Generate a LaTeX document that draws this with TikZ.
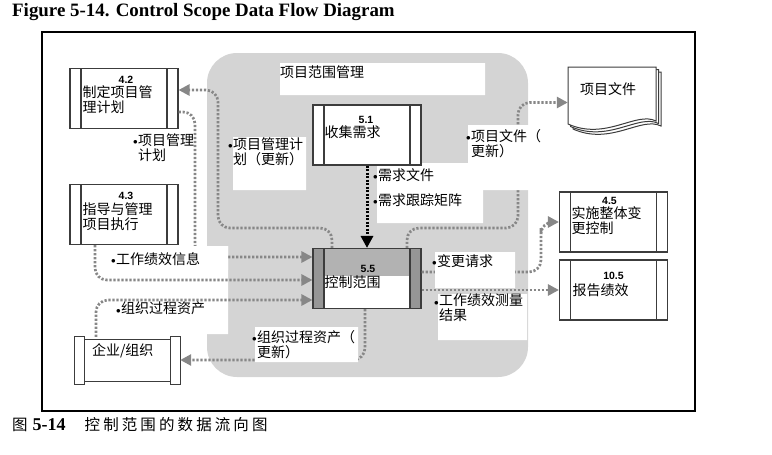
\documentclass[tikz,border=0pt]{standalone}
\usepackage{fontspec}
\setmainfont{Liberation Serif}
\newfontfamily\cjk{Noto Sans CJK SC}
\newfontfamily\cjkcap{Noto Sans CJK SC}[LetterSpace=20]
\newfontfamily\numf{Liberation Sans}
\usetikzlibrary{arrows.meta,positioning}
\definecolor{scopegray}{RGB}{212,212,212}
\definecolor{flowgray}{RGB}{135,135,135}
\definecolor{boxline}{RGB}{60,60,60}
\definecolor{sidegray}{RGB}{150,150,150}
\definecolor{bandgray}{RGB}{178,178,178}
\newcommand\lbul{\llap{\raisebox{0.5pt}{\fontsize{9}{9}\selectfont$\bullet$}\hspace{0.5pt}}}

\begin{document}
\begin{tikzpicture}[x=1pt,y=-1pt]
    \tikzstyle{procbox}=[draw=boxline, line width=1.1pt, fill=white, minimum width=108pt, minimum height=60pt, inner sep=0pt,
      path picture={\draw[boxline, line width=1.1pt]
        ([xshift=11pt]path picture bounding box.north west) -- ([xshift=11pt]path picture bounding box.south west)
        ([xshift=-11pt]path picture bounding box.north east) -- ([xshift=-11pt]path picture bounding box.south east);}]
    \tikzstyle{ctrlbox}=[procbox,
      path picture={
        \fill[sidegray] (path picture bounding box.north west) rectangle ([xshift=11pt]path picture bounding box.south west);
        \fill[sidegray] ([xshift=-11pt]path picture bounding box.north east) rectangle (path picture bounding box.south east);
        \fill[bandgray] ([xshift=11pt]path picture bounding box.north west) rectangle ([xshift=-11pt,yshift=-27pt]path picture bounding box.north east);
        \draw[boxline, line width=1.1pt]
        ([xshift=11pt]path picture bounding box.north west) -- ([xshift=11pt]path picture bounding box.south west)
        ([xshift=-11pt]path picture bounding box.north east) -- ([xshift=-11pt]path picture bounding box.south east);}]
    \tikzstyle{orgbox}=[minimum width=105pt, minimum height=47pt, inner sep=0pt]
    \tikzstyle{pagebox}=[minimum width=88pt, minimum height=57pt, inner sep=0pt]
    \tikzstyle{txt}=[inner sep=0pt, align=left, font={\cjk\fontsize{14}{15}\selectfont}]
    \tikzstyle{numtxt}=[inner sep=0pt, font={\numf\bfseries\fontsize{10.5}{10.5}\selectfont}]
    \tikzstyle{flow}=[flowgray, line width=2.7pt, dash pattern=on 2.2pt off 1.8pt, rounded corners=12pt, -{Triangle[length=11pt,width=11pt]}]
    \tikzstyle{reqflow}=[black, line width=3pt, dash pattern=on 2pt off 1.5pt, -{Triangle[length=12pt,width=12pt]}]
    \useasboundingbox (0,0) rectangle (772,455);

    % title and frame
    \node[anchor=base west, inner sep=0pt, font={\bfseries\fontsize{18.9}{18.9}\selectfont}] (title) at (12,16.5)
      {Figure 5-14. Control Scope Data Flow Diagram};
    \draw[line width=2pt] (42,32) rectangle (695,411);

    % scope area with the white label patches
    \fill[scopegray, rounded corners=30pt] (207,53) rectangle (528,377);
    \fill[white] (280,63) rectangle (485,95)
                 (233,137) rectangle (306,190)
                 (377,163) rectangle (483,223)
                 (438,294) rectangle (527,340)
                 (207,246) rectangle (228,334);

    % processes
    \node[procbox] (p42) at (124,98.5) {};
    \node[procbox] (p43) at (124,214.5) {};
    \node[procbox] (p51) at (367,135) {};
    \node[ctrlbox] (p55) at (367,278.5) {};
    \node[procbox] (p45) at (613.5,222) {};
    \node[procbox] (p105) at (613.5,290) {};

    % enterprise / organization
    \node[orgbox] (org) at (127.5,360.5) {};
    \draw[boxline, line width=1.1pt, fill=white]
      ([xshift=10pt,yshift=-3pt]org.north west) rectangle ([xshift=-10pt,yshift=3pt]org.south east)
      (org.north west) rectangle ([xshift=10pt]org.south west)
      ([xshift=-10pt]org.north east) rectangle (org.south east);

    % project documents
    \node[pagebox] (docs) at (612,95.5) {};
    \foreach \d in {5,2.5,0}
      \draw[boxline, line width=1pt, fill=white] (568+\d,67+\d) -- (656+\d,67+\d) -- (656+\d,121+\d)
        .. controls (636+\d,111+\d) and (606+\d,141+\d) .. (568+\d,124+\d) -- cycle;

    % flows
    \draw[flow] ([xshift=-35pt]p55.north) |- (218,228) |- ([yshift=8.5pt]p42.east);
    \draw[flow] ([yshift=-13.5pt]p42.east) -| (195,257) -- ([yshift=21.5pt]p55.west);
    \draw[flow] ([xshift=-29pt]p43.south) |- ([yshift=-1.5pt]p55.west);
    \draw[flow] ([xshift=-31.5pt]org.north) |- ([yshift=-21.5pt]p55.west);
    \draw[flow] ([xshift=-2pt]p55.south) |- ([yshift=0.5pt]org.east);
    \draw[reqflow] (p51.south) -- (p55.north);
    \draw[flow] ([xshift=40pt]p55.north) |- (518,228) |- ([yshift=-7pt]docs.west);
    \draw[flow] ([yshift=6.5pt]p55.east) -| (541,240) |- (p45.west);
    \draw[flow] ([yshift=-11.5pt]p55.east) -- (p105.west);

    % label patches lying over the flows
    \fill[white] (468,125) rectangle (531,190)
                 (435,252) rectangle (515,288)
                 (255,327) rectangle (358,362)
                 (190,246) rectangle (228,270);

    % box texts
    \node[numtxt, below=8pt of p42.north, xshift=2pt] (n42) {4.2};
    \node[txt, below right=17.5pt and 13pt of p42.north west] (t42) {制定项目管\\理计划};
    \node[numtxt, below=8pt of p43.north, xshift=2pt] (n43) {4.3};
    \node[txt, below right=18.5pt and 13pt of p43.north west] (t43) {指导与管理\\项目执行};
    \node[numtxt, below=11.5pt of p51.north, xshift=-1pt] (n51) {5.1};
    \node[txt, below right=21pt and 12pt of p51.north west] (t51) {收集需求};
    \node[numtxt, below=17pt of p55.north, xshift=1pt] (n55) {5.5};
    \node[txt, below right=27.5pt and 12pt of p55.north west] (t55) {控制范围};
    \node[numtxt, below=5.5pt of p45.north, xshift=-4pt] (n45) {4.5};
    \node[txt, below right=15pt and 12.5pt of p45.north west] (t45) {实施整体变\\更控制};
    \node[numtxt, below=12.5pt of p105.north] (n105) {10.5};
    \node[txt, below right=24pt and 13.5pt of p105.north west] (t105) {报告绩效};
    \node[txt, below right=7pt and 17pt of org.north west] (torg) {企业/组织};
    \node[txt, below right=16pt and 12pt of docs.north west] (tdocs) {项目文件};

    % flow labels
    \node[txt, anchor=north west] (lscope) at (280,65) {项目范围管理};
    \node[txt, anchor=north west] (lplan) at (138,133) {\lbul 项目管理\\计划};
    \node[txt, anchor=north west] (lplanupd) at (233,137) {\lbul 项目管理计\\划（更新）};
    \node[txt, anchor=north west] (ldocsupd) at (471,129) {\lbul 项目文件（\\更新）};
    \node[txt, anchor=north west] (lreqdoc) at (378,168) {\lbul 需求文件};
    \node[txt, anchor=north west] (lreqmat) at (378,193) {\lbul 需求跟踪矩阵};
    \node[txt, anchor=north west] (lwpi) at (116,252) {\lbul 工作绩效信息};
    \node[txt, anchor=north west] (lopa) at (121,302) {\lbul 组织过程资产};
    \node[txt, anchor=north west] (lopaupd) at (257,330) {\lbul 组织过程资产（\\更新）};
    \node[txt, anchor=north west] (lcr) at (437,254) {\lbul 变更请求};
    \node[txt, anchor=north west] (lwpm) at (439,294) {\lbul 工作绩效测量\\结果};

    % caption
    \node[anchor=base west, inner sep=0pt] (caption) at (12,430.5)
      {{\cjkcap\fontsize{15.5}{15.5}\selectfont 图}\hspace{5pt}{\bfseries\fontsize{18}{18}\selectfont 5-14}\hspace{19pt}{\cjkcap\fontsize{15.5}{15.5}\selectfont 控制范围的数据流向图}};
\end{tikzpicture}
\end{document}
